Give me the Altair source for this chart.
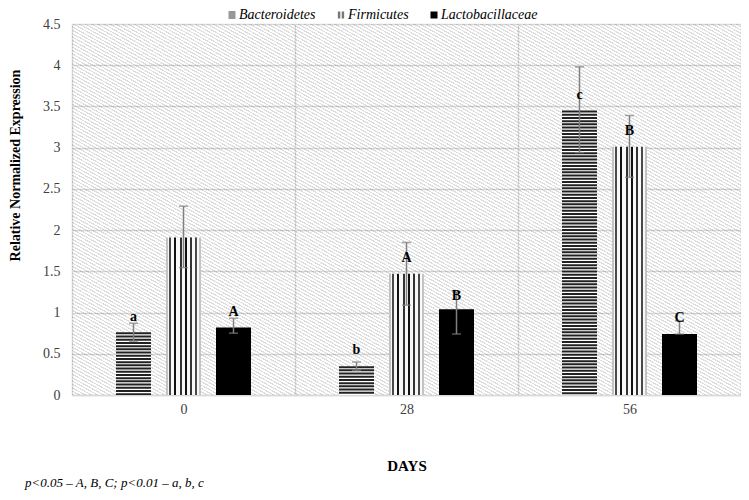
import altair as alt
import pandas as pd

days = ["0", "28", "56"]
series = ["Bacteroidetes", "Firmicutes", "Lactobacillaceae"]

bacteroidetes = [0.76, 0.35, 3.45]
firmicutes = [1.91, 1.47, 3.01]
lactobacillaceae = [0.82, 1.04, 0.74]

bact_hi = [0.87, 0.40, 3.98]
bact_lo = [0.65, 0.30, 2.94]
firm_hi = [2.29, 1.85, 3.39]
firm_lo = [1.545, 1.09, 2.64]
lacto_hi = [0.93, 1.25, 0.90]
lacto_lo = [0.75, 0.74, 0.74]

bact_letters = ["a", "b", "c"]
firm_letters = ["", "A", "B"]
lacto_letters = ["A", "B", "C"]
bact_label_y = [0.95, 0.54, 3.64]
firm_label_y = [0.0, 1.66, 3.20]
lacto_label_y = [1.01, 1.205, 0.94]

footnote = "p<0.05 \u2013 A, B, C; p<0.01 \u2013 a, b, c"

rows = []
for s, vals, his, los, lets, lys in [
    (series[0], bacteroidetes, bact_hi, bact_lo, bact_letters, bact_label_y),
    (series[1], firmicutes, firm_hi, firm_lo, firm_letters, firm_label_y),
    (series[2], lactobacillaceae, lacto_hi, lacto_lo, lacto_letters, lacto_label_y),
]:
    for d, v, h, l, t, ly in zip(days, vals, his, los, lets, lys):
        rows.append(dict(day=d, series=s, value=v, hi=h, lo=l, letter=t, label_y=ly))
df = pd.DataFrame(rows)

FONT = "'Liberation Serif', 'Times New Roman', Times, serif"
W, H = 669, 371
BAR_W = 35

# background diagonal hatch (semi-transparent so grid lines show through)
N = 220
LINE = "rgba(0,0,0,0.13)"
CLEAR = "rgba(255,255,255,0)"
bg_stops = []
for i in range(N):
    o0 = i / N
    o1 = (i + 0.4) / N
    o2 = (i + 1) / N
    bg_stops += [
        {"offset": o0, "color": LINE},
        {"offset": o1, "color": LINE},
        {"offset": o1, "color": CLEAR},
        {"offset": o2, "color": CLEAR},
    ]
bg_grad = {"gradient": "linear", "x1": 0, "y1": 1, "x2": 1, "y2": 0, "stops": bg_stops}

# vertical stripes for Firmicutes
stripes = [(0, 1.6, "#c4c4c4"), (3.2, 5.2, "#4a4a4a"), (8.4, 10.4, "#111111"),
           (13.6, 15.6, "#333333"), (18.8, 20.8, "#111111"), (24.0, 26.0, "#333333"),
           (29.2, 31.2, "#4a4a4a"), (33.4, 35, "#c4c4c4")]
f_stops = []
for a, b, c in stripes:
    f_stops += [
        {"offset": a / BAR_W, "color": "#f8f8f8"},
        {"offset": a / BAR_W, "color": c},
        {"offset": b / BAR_W, "color": c},
        {"offset": b / BAR_W, "color": "#f8f8f8"},
    ]
firm_grad = {"gradient": "linear", "x1": 0, "y1": 0, "x2": 1, "y2": 0, "stops": f_stops}

xenc = alt.X(
    "day:N", sort=days,
    scale=alt.Scale(paddingInner=0, paddingOuter=0),
    axis=alt.Axis(
        title="DAYS", tickBand="extent", grid=True, gridColor="#d9d9d9", gridWidth=1.5,
        ticks=False, domainColor="#d9d9d9", domainWidth=1.5, labelAngle=0,
        labelFont=FONT, labelFontSize=14, labelColor="#404040", labelPadding=7,
        titleFont=FONT, titleFontSize=15, titleFontWeight="bold", titleColor="#000000",
        titlePadding=42,
    ),
)
xoff = alt.XOffset("series:N", sort=series,
                   scale=alt.Scale(domain=series, paddingInner=0.3, paddingOuter=0.88))

yscale = alt.Scale(domain=[0, 4.5], nice=False, zero=True)
yaxis = alt.Axis(
    title="Relative Normalized Expression", values=[i * 0.5 for i in range(10)],
    format="~g", grid=True, gridColor="#d9d9d9", gridWidth=1.5, domain=False, ticks=False,
    labelFont=FONT, labelFontSize=14, labelColor="#404040", labelPadding=12,
    titleFont=FONT, titleFontSize=14, titleFontWeight="bold", titleColor="#000000",
    titleX=-57, titleY=141, titleBaseline="middle", titleAlign="center",
)


def yenc(field):
    return alt.Y(f"{field}:Q", scale=yscale, axis=yaxis)


base = alt.Chart(df)

background = alt.Chart(pd.DataFrame({"k": [0]})).mark_rect(fill=bg_grad).encode(
    x=alt.value(0), x2=alt.value(W), y=alt.value(0), y2=alt.value(H))

bact_white = base.transform_filter(f"datum.series == '{series[0]}'").mark_bar(
    fill="#ffffff").encode(x=xenc, xOffset=xoff, y=yenc("value"), y2=alt.datum(0))
bact_lines = base.transform_filter(f"datum.series == '{series[0]}'").mark_rule(
    stroke="#222222", strokeWidth=BAR_W, strokeDash=[2, 1.2], strokeCap="butt"
).encode(x=xenc, xOffset=xoff, y=yenc("value"), y2=alt.datum(0))
firm_bar = base.transform_filter(f"datum.series == '{series[1]}'").mark_bar(
    fill=firm_grad).encode(x=xenc, xOffset=xoff, y=yenc("value"), y2=alt.datum(0))
lacto_bar = base.transform_filter(f"datum.series == '{series[2]}'").mark_bar(
    fill="#000000").encode(x=xenc, xOffset=xoff, y=yenc("value"), y2=alt.datum(0))

err = base.mark_rule(stroke="#808080", strokeWidth=1.5).encode(
    x=xenc, xOffset=xoff, y=yenc("lo"), y2="hi:Q")
cap_hi = base.mark_tick(color="#808080", size=9, thickness=1.5).encode(
    x=xenc, xOffset=xoff, y=yenc("hi"))
cap_lo = base.mark_tick(color="#808080", size=9, thickness=1.5).encode(
    x=xenc, xOffset=xoff, y=yenc("lo"))

labels = base.transform_filter("datum.letter != ''").mark_text(
    font=FONT, fontSize=14, fontWeight="bold", color="#000000", baseline="middle"
).encode(x=xenc, xOffset=xoff, y=yenc("label_y"), text="letter:N")

leg = alt.Legend(
    title=None, orient="none", legendX=153, legendY=-16, direction="horizontal",
    padding=0, labelFont=FONT, labelFontStyle="italic", labelFontSize=14,
    labelColor="#000000", symbolSize=49, symbolOpacity=1, symbolStrokeWidth=0,
    columnPadding=18, labelOffset=0,
)
legend_pts = base.mark_point(filled=True, opacity=0).encode(
    x=xenc, xOffset=xoff, y=yenc("value"),
    shape=alt.Shape("series:N", sort=series, scale=alt.Scale(
        domain=series,
        range=[
            "M-1,-1H1V-0.7H-1Z M-1,-0.45H1V-0.15H-1Z M-1,0.15H1V0.45H-1Z M-1,0.7H1V1H-1Z",
            "M-0.9,-1H-0.2V1H-0.9Z M0.2,-1H0.9V1H0.2Z",
            "M-1,-1H1V1H-1Z",
        ]), legend=leg),
    color=alt.Color("series:N", sort=series, scale=alt.Scale(
        domain=series, range=["#333333", "#777777", "#000000"]), legend=leg),
)

chart = alt.layer(
    background, bact_white, bact_lines, firm_bar, lacto_bar, err, cap_hi, cap_lo, labels,
    legend_pts
).properties(
    width=W, height=H,
    autosize=alt.AutoSizeParams(type="none"),
    padding={"left": 64, "top": 16, "right": 0, "bottom": 97},
    title=alt.TitleParams(
        text=footnote, orient="bottom", anchor="start", frame="group", dx=-47, offset=4,
        font=FONT, fontSize=13, fontStyle="italic", fontWeight="normal", color="#000000",
    ),
).configure_view(stroke="transparent", fill="#ffffff").configure(background="#ffffff")

chart.save("out.html", embed_options={"renderer": "svg", "actions": False})
